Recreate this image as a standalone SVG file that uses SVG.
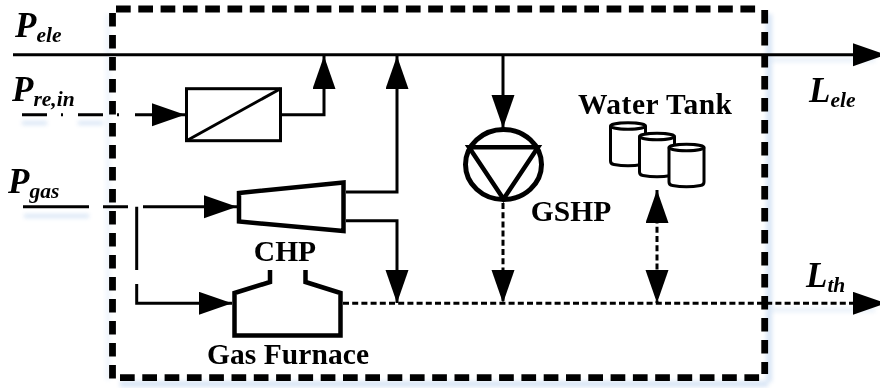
<svg xmlns="http://www.w3.org/2000/svg" width="880" height="388" viewBox="0 0 880 388">
<defs>
<filter id="glow" x="-10%" y="-10%" width="120%" height="120%"><feGaussianBlur stdDeviation="2.2"/></filter>
<marker id="a" markerUnits="userSpaceOnUse" markerWidth="34" markerHeight="24" refX="33" refY="11.5" orient="auto-start-reverse"><path d="M0 0L33 11.5L0 23Z" fill="#000"/></marker>
</defs>
<style>
.l{fill:none;stroke:#000;stroke-width:3}
.s{fill:none;stroke:#000;stroke-width:4.5}
.d{fill:none;stroke:#000;stroke-width:3;stroke-dasharray:6 3.2}
.f{fill:none;stroke:#000;stroke-width:6.8}
.h{fill:none;stroke-dasharray:14.7 7.6}
.v{fill:none;stroke-dasharray:13.5 8.5}
.t{font-family:"Liberation Serif",serif;font-weight:bold;fill:#000;font-size:29.5px}
.i{font-family:"Liberation Serif",serif;font-weight:bold;font-style:italic;fill:#000;font-size:35px}
.u{font-size:21.5px}
</style>
<rect width="880" height="388" fill="#fff"/>
<g id="shadow" filter="url(#glow)" fill="none" stroke="#a9c6ea" stroke-width="6" opacity="0.45">
<path d="M769 14V382M120 384H768"/>
<path d="M108 14V380" stroke-width="4" opacity="0.5"/>
<path d="M22 123H47M78 123H103M24 216H89" stroke-width="4"/>
<path d="M770 60H875M770 310H875" stroke-width="4" opacity="0.6"/>
</g>
<g id="frame">
<path class="f h" d="M116 9H761"/>
<path class="f v" d="M764.7 10V374"/>
<path class="f h" d="M120 377.7H761"/>
<path class="f v" d="M112.5 13V381"/>
</g>
<g id="connectors">
<path class="l" d="M13 54.7H886" marker-end="url(#a)"/>
<path class="l" d="M22 114.7H47M61 114.7H63M78 114.7H103M117 114.7H119M135 114.7H185" marker-end="url(#a)"/>
<path class="l" d="M282 114.7H324V56" marker-end="url(#a)"/>
<path class="l" d="M346 192H397V56" marker-end="url(#a)"/>
<path class="l" d="M23 206.7H89M103 206.7H128M143 206.7H237" marker-end="url(#a)"/>
<path class="l" d="M136.7 206.7V270M136.7 284V303.3H232" marker-end="url(#a)"/>
<path class="l" d="M346 220.7H397V303" marker-end="url(#a)"/>
<path class="l" d="M503 55V128" marker-end="url(#a)"/>
<path class="d" d="M343 303.3H886" marker-end="url(#a)"/>
<path class="d" d="M503 203V303" marker-end="url(#a)"/>
<path class="d" d="M657 190V303" marker-start="url(#a)" marker-end="url(#a)"/>
</g>
<g id="converter"><rect class="l" x="186.5" y="88.7" width="94" height="52"/><path class="l" d="M186.5 140.7L280.5 88.7"/></g>
<g id="chp"><path class="s" d="M239 193L343.5 182.5V231L239 221.5Z"/><text class="t" x="285" y="260.6" text-anchor="middle">CHP</text></g>
<g id="furnace"><path class="s" d="M270 270V282L234.5 293V335.5H340.5V293L305.5 282V270"/><text class="t" x="288" y="364" text-anchor="middle" textLength="162" lengthAdjust="spacing">Gas Furnace</text></g>
<g id="gshp"><ellipse cx="503.5" cy="164.5" rx="38" ry="35" fill="none" stroke="#000" stroke-width="5"/><path class="s" d="M469 147.3H538L503.5 199Z"/><text class="t" x="571" y="220.7" text-anchor="middle">GSHP</text></g>
<g id="tank"><text class="t" x="655" y="114" text-anchor="middle" textLength="154" lengthAdjust="spacing">Water Tank</text>
<g fill="#fff" stroke="#000" stroke-width="3" stroke-linejoin="round"><path d="M610.5 126V161Q610.5 164 614 164.5Q628 167 642 164.5Q645.5 164 645.5 161V126"/><ellipse cx="628" cy="126" rx="17.5" ry="3.2"/><path d="M639.5 136.5V172Q639.5 175 643 175.5Q657 178 671 175.5Q674.5 175 674.5 172V136.5"/><ellipse cx="657" cy="136.5" rx="17.5" ry="3.2"/><path d="M669 147.5V182Q669 185 672.5 185.5Q686.5 188 700.5 185.5Q704 185 704 182V147.5"/><ellipse cx="686.5" cy="147.5" rx="17.5" ry="3.2"/></g></g>
<g id="labels">
<text class="i" x="15" y="37.3">P<tspan class="u" dy="4.5">ele</tspan></text>
<text class="i" x="12" y="101">P<tspan class="u" dy="5">re,in</tspan></text>
<text class="i" x="8" y="193">P<tspan class="u" dy="5">gas</tspan></text>
<text class="i" x="809" y="101.7">L<tspan class="u" dy="5">ele</tspan></text>
<text class="i" x="806" y="287">L<tspan class="u" dy="4.7">th</tspan></text>
</g>
</svg>
